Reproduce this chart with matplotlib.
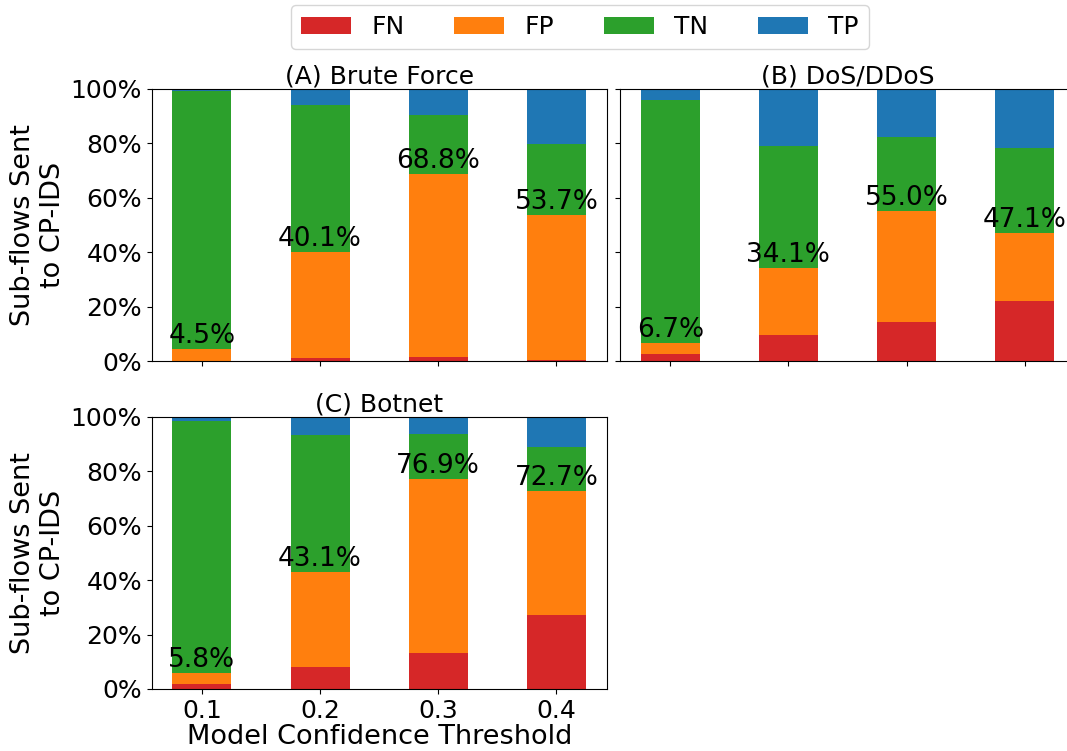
import numpy as np
import matplotlib
matplotlib.use("Agg")
import matplotlib.pyplot as plt
from matplotlib.ticker import PercentFormatter

# ---- data (percent of sub-flows) ----
thresholds = ["0.1", "0.2", "0.3", "0.4"]
titles = ["(A) Brute Force", "(B) DoS/DDoS", "(C) Botnet"]

# brute force
bf_fn = [0.2, 1.0, 1.5, 0.6]
bf_fp = [4.3, 39.1, 67.3, 53.1]
bf_tn = [94.8, 53.9, 21.4, 26.1]
bf_tp = [0.7, 6.0, 9.8, 20.2]

# dos/ddos
dos_fn = [2.8, 9.6, 14.3, 22.2]
dos_fp = [3.9, 24.5, 40.7, 24.9]
dos_tn = [89.3, 44.8, 27.4, 31.1]
dos_tp = [4.0, 21.1, 17.6, 21.8]

# botnet
bot_fn = [1.9, 8.1, 13.2, 27.0]
bot_fp = [3.9, 35.0, 63.7, 45.7]
bot_tn = [92.5, 50.2, 16.8, 16.2]
bot_tp = [1.7, 6.7, 6.3, 11.1]

labels = ["FN", "FP", "TN", "TP"]
colors = ["tab:red", "tab:orange", "tab:green", "tab:blue"]

plt.rcParams['font.size'] = 18

fig, axes = plt.subplots(2, 2, figsize=(10.67, 7.51), dpi=100, sharex=True, sharey=True)

# axes boxes (right panel runs slightly past the figure edge, as in the original)
W, H = 1067.0, 751.0
aw, ah = 455.0 / W, 272.5 / H
axes[0, 0].set_position([151.7 / W, 1 - 361.2 / H, aw, ah])
axes[0, 1].set_position([620.0 / W, 1 - 361.2 / H, aw, ah])
axes[1, 0].set_position([151.7 / W, 1 - 689.0 / H, aw, ah])

panels = [
    (axes[0, 0], [bf_fn, bf_fp, bf_tn, bf_tp]),
    (axes[0, 1], [dos_fn, dos_fp, dos_tn, dos_tp]),
    (axes[1, 0], [bot_fn, bot_fp, bot_tn, bot_tp]),
]

x = np.arange(len(thresholds))
for i, (ax, series) in enumerate(panels):
    bottom = np.zeros(len(x))
    for s, lab, c in zip(series, labels, colors):
        ax.bar(x, s, 0.5, bottom=bottom, color=c, label=lab)
        bottom += np.array(s)
    sent = np.array(series[0]) + np.array(series[1])
    for xi, v in zip(x, sent):
        ax.text(xi, v, "%.1f%%" % v, ha="center", va="bottom", fontsize=19)
    ax.set_title(titles[i], fontsize=18, pad=2)

axes[1, 1].axis("off")
axes[0, 1].xaxis.set_tick_params(labelbottom=False)

for ax in [axes[0, 0], axes[0, 1], axes[1, 0]]:
    ax.set_ylim(0, 100)
    ax.set_xticks(x)
    ax.set_xticklabels(thresholds)
    ax.set_yticks([0, 20, 40, 60, 80, 100])
    ax.yaxis.set_major_formatter(PercentFormatter(decimals=0))

axes[0, 0].set_ylabel("Sub-flows Sent\nto CP-IDS", fontsize=19.5, labelpad=3)
axes[1, 0].set_ylabel("Sub-flows Sent\nto CP-IDS", fontsize=19.5, labelpad=3)
axes[1, 0].set_xlabel("Model Confidence Threshold", fontsize=19.5, labelpad=1)
axes[1, 0].xaxis.set_tick_params(labelbottom=True)

h, l = axes[0, 0].get_legend_handles_labels()
fig.legend(h, l, loc="upper center", ncol=4, bbox_to_anchor=(0.5434, 1.0),
           borderaxespad=0.2, fontsize=18)

plt.savefig("out.png")
